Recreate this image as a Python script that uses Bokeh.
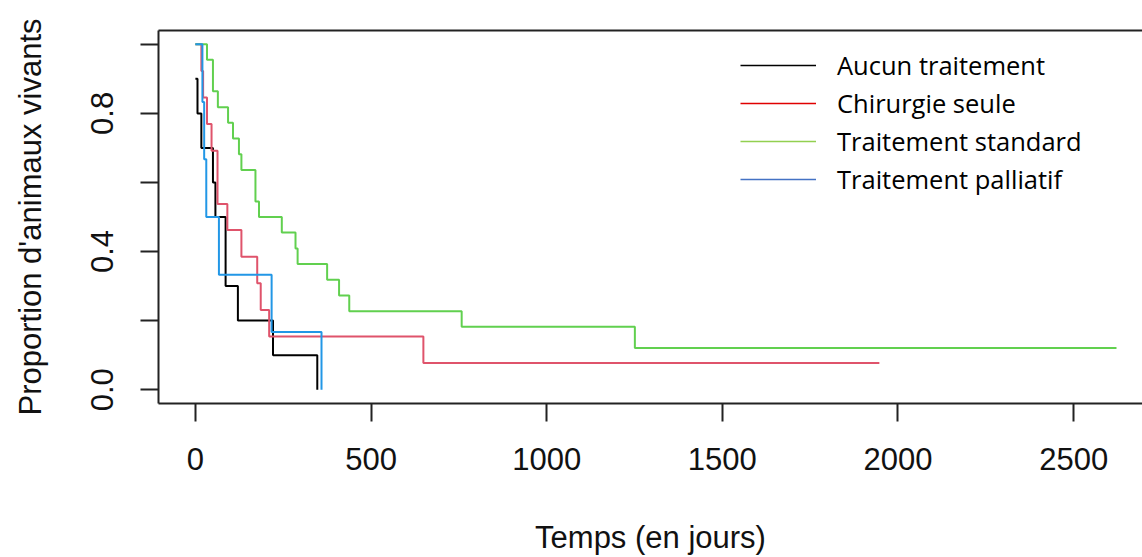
from bokeh.plotting import figure
from bokeh.models import Range1d, LinearAxis, FixedTicker, Legend, LegendItem
from bokeh.embed import file_html
from bokeh.resources import INLINE

# ---- data ----
groups = ["Aucun traitement", "Chirurgie seule", "Traitement standard", "Traitement palliatif"]

aucun_t = [0, 6, 17, 50, 57, 86, 121, 221, 347]
aucun_s = [0.9, 0.8, 0.7, 0.6, 0.5, 0.3, 0.2, 0.1, 0.0]

chir_t = [0, 17, 22, 33, 46, 63, 91, 131, 176, 186, 210, 649, 1947]
chir_s = [1.0, 0.923, 0.846, 0.769, 0.692, 0.538, 0.462, 0.385, 0.308, 0.231, 0.154, 0.077, 0.077]

std_t = [0, 33, 50, 64, 93, 107, 124, 131, 171, 181, 246, 285, 291, 375, 409, 438, 758, 1251, 2622]
std_s = [1.0, 0.955, 0.864, 0.818, 0.773, 0.727, 0.682, 0.636, 0.545, 0.5, 0.455, 0.409, 0.364,
         0.318, 0.273, 0.227, 0.182, 0.121, 0.121]

pall_t = [0, 20, 25, 31, 67, 217, 359]
pall_s = [1.0, 0.833, 0.667, 0.5, 0.333, 0.167, 0.0]

x_ticks = [0, 500, 1000, 1500, 2000, 2500]
y_ticks = [0.0, 0.2, 0.4, 0.6, 0.8, 1.0]
y_tick_labels = ["0.0", "", "0.4", "", "0.8", ""]

curve_colors = ["#000000", "#DF536B", "#61D04F", "#2297E6"]
legend_colors = ["#000000", "#E00000", "#92D050", "#4472C4"]

x_title = "Temps (en jours)"
y_title = "Proportion d'animaux vivants"

# ---- figure ----
p = figure(width=1142, height=557,
           x_range=Range1d(-105, 2696), y_range=Range1d(-0.04, 1.04),
           output_backend="svg", toolbar_location=None,
           min_border_left=158, min_border_right=0,
           min_border_top=30, min_border_bottom=154)
p.grid.visible = False
p.outline_line_color = None
p.background_fill_color = "white"
p.border_fill_color = "white"

series = [(aucun_t, aucun_s), (chir_t, chir_s), (std_t, std_s), (pall_t, pall_s)]
for (t, s), c in zip(series, curve_colors):
    p.step(x=t, y=s, mode="after", line_color=c, line_width=2)

AX_FONT = "Liberation Sans"
FS = "31px"

xa = p.xaxis[0]
xa.ticker = FixedTicker(ticks=x_ticks)
xa.axis_label = x_title
ya = p.yaxis[0]
ya.ticker = FixedTicker(ticks=y_ticks)
ya.axis_label = y_title
ya.major_label_overrides = {t: l for t, l in zip(y_ticks, y_tick_labels)}
ya.major_label_orientation = "vertical"

for ax in (xa, ya):
    ax.axis_line_color = "#222222"
    ax.axis_line_width = 2
    ax.major_tick_line_color = "#222222"
    ax.major_tick_line_width = 2
    ax.major_tick_out = 18
    ax.major_tick_in = 0
    ax.minor_tick_line_color = None
    ax.major_label_text_font = AX_FONT
    ax.major_label_text_font_size = FS
    ax.major_label_text_color = "#111111"
    ax.axis_label_text_font = AX_FONT
    ax.axis_label_text_font_size = FS
    ax.axis_label_text_font_style = "normal"
    ax.axis_label_text_color = "#111111"
xa.major_label_standoff = 26
xa.axis_label_standoff = 47
ya.major_label_standoff = 27
ya.axis_label_standoff = 41

top = LinearAxis(ticker=FixedTicker(ticks=[]), axis_line_color="#222222", axis_line_width=2,
                 major_label_text_font_size="0px", minor_tick_line_color=None,
                 major_tick_line_color=None)
p.add_layout(top, "above")

# legend (drawn in its own colours, as in the reference); each legend renderer
# holds only a single point of its series, so it draws nothing in the plot area
items = []
for g, c, (t, s) in zip(groups, legend_colors, series):
    r = p.line(x=t[:1], y=s[:1], line_color=c, line_width=1.5)
    items.append(LegendItem(label=g, renderers=[r]))
legend = Legend(items=items, location=(582, 205), orientation="vertical",
                glyph_width=76, glyph_height=38, label_height=38, spacing=0,
                padding=0, margin=0, label_standoff=21,
                label_text_font="Open Sans", label_text_font_size="25.5px",
                label_text_color="#000000",
                border_line_color=None, background_fill_alpha=0)
p.add_layout(legend)

open("out.html", "w").write(file_html(p, INLINE))
